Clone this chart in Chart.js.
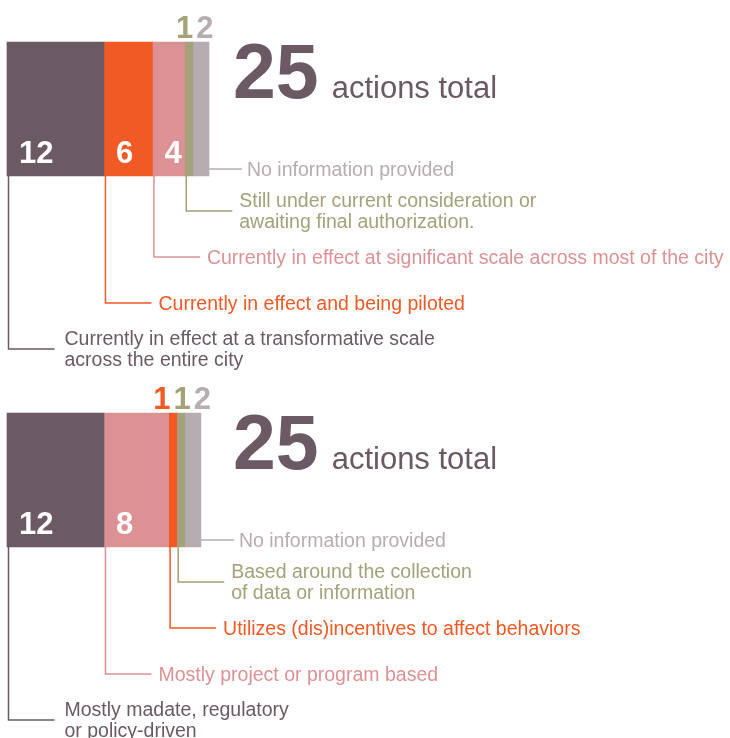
<!DOCTYPE html>
<html>
<head>
<meta charset="utf-8">
<title>25 actions total</title>
<script src="https://cdn.jsdelivr.net/npm/chart.js@4.4.1/dist/chart.umd.min.js"></script>
<style>
    body { margin: 0; background: #fff; }
    #chartWrap { width: 730px; height: 738px; }
</style>
</head>
<body>
<div id="chartWrap"><canvas id="actionsChart" width="730" height="738"></canvas></div>
<script>
// two breakdowns of the same actions
const groups = ['Status', 'Type'];
const totals = ['25', '25'];

const statusValues = [12, 6, 4, 1, 2];
const statusLabels = [
    ['Currently in effect at a transformative scale', 'across the entire city'],
    ['Currently in effect and being piloted'],
    ['Currently in effect at significant scale across most of the city'],
    ['Still under current consideration or', 'awaiting final authorization.'],
    ['No information provided']
];

const typeValues = [12, 8, 1, 1, 2];
const typeLabels = [
    ['Mostly madate, regulatory', 'or policy-driven'],
    ['Mostly project or program based'],
    ['Utilizes (dis)incentives to affect behaviors'],
    ['Based around the collection', 'of data or information'],
    ['No information provided']
];

const colors = { mauve: '#6b5a64', orange: '#f15a24', pink: '#dc9295', olive: '#a3a27a', grey: '#b7acb2' };
const statusColors = [colors.mauve, colors.orange, colors.pink, colors.olive, colors.grey];
const typeColors = [colors.mauve, colors.pink, colors.orange, colors.olive, colors.grey];

const FONT = '"Liberation Sans", Arial, Helvetica, sans-serif';

// numbers, totals and leader lines with their captions
const calloutPlugin = {
    id: 'callouts',
    afterDatasetsDraw(chart) {
        const ctx = chart.ctx;
        const xScale = chart.scales.x;
        const allLabels = [statusLabels, typeLabels];
        const allColors = [statusColors, typeColors];
        const n = chart.data.datasets.length;

        ctx.save();
        groups.forEach((g, row) => {
            const bars = chart.data.datasets.map((ds, i) =>
                chart.getDatasetMeta(i).data[row].getProps(['x', 'y', 'base', 'height'], true));
            const values = chart.data.datasets.map(ds => ds.data[row]);
            const top = bars[0].y - bars[0].height / 2;
            const bottom = bars[0].y + bars[0].height / 2;

            // segment numbers
            ctx.font = 'bold 31px ' + FONT;
            ctx.textBaseline = 'alphabetic';
            ctx.textAlign = 'left';
            const small = [];
            bars.forEach((b, i) => {
                const text = String(values[i]);
                if (b.x - b.base > 25) {
                    ctx.fillStyle = '#fff';
                    ctx.fillText(text, b.base + 12, bottom - 13);
                } else {
                    small.push({ text, color: allColors[row][i], cx: (b.x + b.base) / 2, w: ctx.measureText(text).width });
                }
            });
            if (small.length) {
                const gap = 3;
                const totalW = small.reduce((s, l) => s + l.w, 0) + gap * (small.length - 1);
                const mid = small.reduce((s, l) => s + l.cx, 0) / small.length;
                let x = mid - totalW / 2;
                small.forEach(l => {
                    ctx.fillStyle = l.color;
                    ctx.fillText(l.text, x, top - 4);
                    x += l.w + gap;
                });
            }

            // big total
            const tx = xScale.getPixelForValue(xScale.max) + 24;
            ctx.fillStyle = colors.mauve;
            ctx.font = 'bold 77px ' + FONT;
            ctx.fillText(totals[row], tx, top + 56);
            const tw = ctx.measureText(totals[row]).width;
            ctx.font = '31px ' + FONT;
            ctx.fillText('actions total', tx + tw + 13, top + 56);

            // leader lines
            ctx.font = '19.5px ' + FONT;
            ctx.textBaseline = 'middle';
            ctx.lineWidth = 1.5;
            bars.forEach((b, i) => {
                const color = allColors[row][i];
                const lines = allLabels[row][i];
                let lineY, x0, x1, textX;
                ctx.strokeStyle = color;
                ctx.beginPath();
                if (i === n - 1) {
                    lineY = bottom - 7;
                    x0 = b.x;
                    x1 = b.x + 33;
                    textX = x1 + 5;
                    ctx.moveTo(x0, lineY);
                } else {
                    lineY = bottom + 35 + (n - 2 - i) * 46;
                    x0 = b.base + 1.5;
                    x1 = x0 + 46;
                    textX = x1 + (i === 0 ? 10 : 7);
                    ctx.moveTo(x0, bottom);
                    ctx.lineTo(x0, lineY);
                }
                ctx.lineTo(x1, lineY);
                ctx.stroke();

                ctx.fillStyle = color;
                if (lines.length === 1) {
                    ctx.fillText(lines[0], textX, lineY + 2);
                } else {
                    ctx.fillText(lines[0], textX, lineY - 9);
                    ctx.fillText(lines[1], textX, lineY + 12);
                }
            });
        });
        ctx.restore();
    }
};

const datasets = statusValues.map((v, i) => ({
    label: 'segment ' + (i + 1),
    data: [statusValues[i], typeValues[i]],
    backgroundColor: [statusColors[i], typeColors[i]],
    borderWidth: 0,
    barThickness: 134,
    clip: false
}));

new Chart(document.getElementById('actionsChart').getContext('2d'), {
    type: 'bar',
    data: { labels: groups, datasets: datasets },
    options: {
        responsive: false,
        animation: false,
        indexAxis: 'y',
        layout: { padding: { left: 7, right: 521, top: 109, bottom: 258 } },
        plugins: {
            legend: { display: false },
            tooltip: { enabled: false }
        },
        scales: {
            x: { display: false, stacked: true, min: 0, max: 25 },
            y: { display: false, stacked: true, offset: false }
        }
    },
    plugins: [calloutPlugin]
});
</script>
</body>
</html>
